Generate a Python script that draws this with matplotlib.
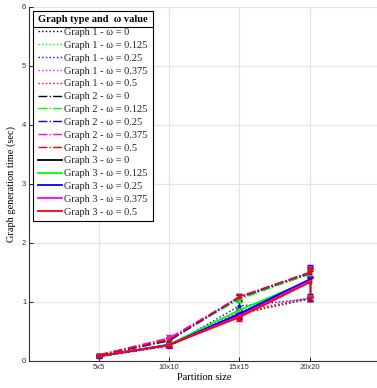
import matplotlib
matplotlib.use("Agg")
import matplotlib.pyplot as plt
from matplotlib.lines import Line2D

# --- data ---
partitions = ["5x5", "10x10", "15x15", "20x20"]
omegas = ["0", "0.125", "0.25", "0.375", "0.5"]
colors = ["black", "#00ff00", "blue", "magenta", "red"]

graph1 = [
    [0.08, 0.26, 0.80, 1.05],
    [0.08, 0.27, 0.82, 1.06],
    [0.07, 0.25, 0.93, 1.05],
    [0.08, 0.27, 0.84, 1.07],
    [0.08, 0.26, 0.80, 1.06],
]
graph2 = [
    [0.10, 0.35, 1.07, 1.47],
    [0.10, 0.38, 1.04, 1.48],
    [0.09, 0.34, 1.08, 1.49],
    [0.10, 0.39, 1.08, 1.50],
    [0.10, 0.36, 1.09, 1.50],
]
graph3 = [
    [0.08, 0.27, 0.78, 1.34],
    [0.08, 0.28, 0.86, 1.36],
    [0.08, 0.27, 0.80, 1.38],
    [0.08, 0.27, 0.76, 1.35],
    [0.08, 0.27, 0.74, 1.33],
]
err1 = [0.02, 0.03, 0.06, 0.04]
err2 = [0.02, 0.04, 0.05, 0.06]
err3 = [0.02, 0.03, 0.07, 0.25]

plt.rcParams['font.family'] = ['Liberation Serif', 'DejaVu Serif']

fig = plt.figure(figsize=(3.77, 3.88), dpi=100)
ax = fig.add_axes([0.077, 0.070, 0.93, 0.912])

x = list(range(1, len(partitions) + 1))
groups = [(graph1, ':', err1, 1.0), (graph2, '-.', err2, 1.0), (graph3, '-', err3, 1.3)]
handles = []
for gi, (data, ls, err, lw) in enumerate(groups):
    for wi, vals in enumerate(data):
        ax.errorbar(x, vals, yerr=err, color=colors[wi], linestyle=ls, linewidth=lw,
                    marker='s', markersize=2, capsize=2, elinewidth=1.0, capthick=1.0)
        handles.append(Line2D([], [], color=colors[wi], linestyle=ls, linewidth=lw,
                              label=f"Graph {gi + 1} - ω = {omegas[wi]}"))

ax.set_xlim(0, 5)
ax.set_ylim(0, 6)
ax.set_xticks(x)
ax.set_xticklabels(partitions)
ax.set_yticks(range(0, 7))
for lab in ax.get_xticklabels() + ax.get_yticklabels():
    lab.set_family('Liberation Sans')
    lab.set_fontsize(5.5)
    lab.set_color('#333333')
ax.tick_params(direction='in', length=3, width=0.6, pad=2)
ax.grid(True, color='#e3e3e3', linewidth=0.8)
ax.set_axisbelow(True)
for s in ['top', 'right']:
    ax.spines[s].set_visible(False)
for s in ['left', 'bottom']:
    ax.spines[s].set_color('#333333')
    ax.spines[s].set_linewidth(0.8)

ax.set_xlabel("Partition size", fontsize=7.5, labelpad=2)
ax.set_ylabel("Graph generation time (sec)", fontsize=7.5, labelpad=4)

leg = ax.legend(handles=handles, loc='upper left', bbox_to_anchor=(0.012, 0.99),
                fontsize=7.5, title="Graph type and  ω value",
                title_fontproperties={'weight': 'bold', 'size': 7.5, 'family': 'Liberation Serif'},
                frameon=True, fancybox=False, edgecolor='black', framealpha=1,
                handlelength=2.3, handletextpad=0.25, labelspacing=0.34,
                borderpad=0.45, borderaxespad=0)
leg.get_frame().set_linewidth(0.8)
for t in leg.get_texts():
    t.set_color('#222222')

fig.canvas.draw()
renderer = fig.canvas.get_renderer()
fb = leg.get_frame().get_window_extent(renderer)
tb = leg.get_title().get_window_extent(renderer)
yline = (tb.y0 - 3) / fig.bbox.height
fig.add_artist(Line2D([fb.x0 / fig.bbox.width, fb.x1 / fig.bbox.width], [yline, yline],
                      color='black', linewidth=0.8, transform=fig.transFigure))

fig.savefig("out.png", dpi=100)
